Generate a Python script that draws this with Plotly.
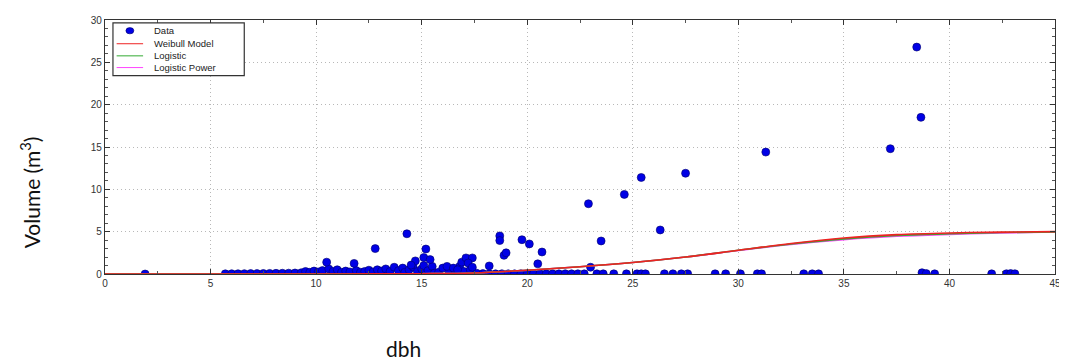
import plotly.graph_objects as go

# Observed data (dbh, volume)
dbh_data = [1.9,
    5.7, 6.0, 6.3, 6.6, 6.9, 7.2, 7.5, 7.8, 8.1, 8.4, 8.7, 9.0, 9.3, 9.5, 9.7, 9.9,
    10.1, 10.3, 10.6, 10.8, 11.0, 11.2, 11.4, 11.6, 11.9, 12.1, 12.3, 12.5, 12.7, 12.9,
    13.1, 13.3, 13.5, 13.7, 13.9, 14.1, 14.2, 14.4, 14.6, 14.8, 15.0, 15.1, 15.3, 15.5,
    15.6, 15.8, 16.0, 16.3, 16.6, 16.8, 17.0, 17.3, 17.6, 17.9, 18.2, 18.5, 18.8, 19.1,
    19.4, 19.7, 20.0, 20.3, 20.6, 20.9, 21.2, 21.5, 21.8, 22.1, 22.4, 22.7, 23.3, 23.6,
    24.1, 24.7, 25.2, 25.4, 25.6, 26.5, 26.9, 27.3, 27.6, 28.9, 29.4, 30.1, 30.9, 31.1,
    33.1, 33.5, 33.8, 38.7, 38.9, 39.3, 42.0, 42.7, 42.9, 43.1,
    10.5, 11.8, 12.8, 14.3, 15.2, 15.1, 15.4, 14.7, 14.5, 16.2, 16.5, 16.9, 17.1, 17.4,
    17.2, 17.4, 16.7, 18.2, 18.7, 18.7, 18.9, 19.0, 19.75, 20.1, 20.7, 20.5,
    22.9, 23.0, 23.5, 24.6, 25.4, 26.3, 27.5, 31.3, 37.2, 38.45, 38.65]
vol_data = [0.0,
    0.02, 0.03, 0.03, 0.04, 0.05, 0.05, 0.06, 0.07, 0.08, 0.09, 0.10, 0.12, 0.15, 0.30, 0.20, 0.35,
    0.25, 0.40, 0.60, 0.30, 0.50, 0.20, 0.35, 0.25, 0.40, 0.20, 0.30, 0.45, 0.25, 0.50,
    0.35, 0.60, 0.30, 0.80, 0.40, 0.70, 0.20, 0.50, 0.80, 0.30, 0.60, 1.00, 0.40, 0.90,
    0.10, 0.20, 0.70, 0.30, 0.20, 0.90, 0.30, 0.50, 0.10, 0.05, 0.03, 0.02, 0.03, 0.02,
    0.02, 0.03, 0.02, 0.02, 0.03, 0.02, 0.02, 0.02, 0.03, 0.02, 0.02, 0.02, 0.02, 0.02,
    0.02, 0.02, 0.02, 0.02, 0.02, 0.02, 0.02, 0.02, 0.02, 0.02, 0.02, 0.02, 0.02, 0.02,
    0.02, 0.02, 0.02, 0.15, 0.05, 0.02, 0.02, 0.03, 0.05, 0.03,
    1.4, 1.25, 3.0, 4.75, 2.95, 1.95, 1.7, 1.55, 1.05, 0.9, 0.7, 1.4, 1.9, 1.9,
    1.3, 0.8, 0.5, 0.95, 4.5, 3.95, 2.2, 2.5, 4.05, 3.55, 2.6, 1.2,
    8.3, 0.8, 3.9, 9.4, 11.4, 5.2, 11.9, 14.4, 14.8, 26.8, 18.5]

# Model curves
dbh_curve = [0, 2.5, 5, 7.5, 10, 12.5, 15, 17.5, 20, 22.5, 25, 27.5, 30, 32.5, 35, 37.5, 40, 42.5, 45]
weibull = [0, 0, 0, 0, 0, 0.01, 0.03, 0.12, 0.45, 0.85, 1.35, 2.0, 2.8, 3.6, 4.25, 4.65, 4.85, 4.95, 5.0]
logistic = [0, 0, 0, 0, 0, 0.01, 0.03, 0.12, 0.45, 0.85, 1.35, 2.0, 2.8, 3.55, 4.15, 4.55, 4.75, 4.9, 4.98]
logistic_power = [0, 0, 0, 0, 0, 0.01, 0.03, 0.12, 0.45, 0.85, 1.35, 2.0, 2.78, 3.5, 4.05, 4.45, 4.68, 4.85, 4.97]

legend_names = ["Data", "Weibull Model", "Logistic", "Logistic Power"]
colors = {"Data": "#0000E6", "Weibull Model": "#EE2222", "Logistic": "#33AA33", "Logistic Power": "#FF44FF"}

fig = go.Figure()
fig.add_trace(go.Scatter(x=dbh_data, y=vol_data, mode="markers", name="Data",
                         marker=dict(color=colors["Data"], size=8, line=dict(color="#00006A", width=0.6))))
fig.add_trace(go.Scatter(x=dbh_curve, y=logistic_power, mode="lines", name="Logistic Power",
                         line=dict(color=colors["Logistic Power"], width=1.6, shape="spline")))
fig.add_trace(go.Scatter(x=dbh_curve, y=logistic, mode="lines", name="Logistic",
                         line=dict(color=colors["Logistic"], width=1.6, shape="spline")))
fig.add_trace(go.Scatter(x=dbh_curve, y=weibull, mode="lines", name="Weibull Model",
                         line=dict(color=colors["Weibull Model"], width=1.6, shape="spline")))

axis_common = dict(showline=True, linecolor="#333333", linewidth=1.2, mirror="ticks",
                   ticks="inside", ticklen=5, tickcolor="#333333",
                   showgrid=True, gridcolor="#B8B8B8", griddash="1px,3px", gridwidth=1,
                   zeroline=False, tickfont=dict(family="Liberation Sans", size=10, color="#333333"),
                   minor=dict(ticks="inside", ticklen=3, tickcolor="#555555", showgrid=False))

fig.update_xaxes(range=[0, 45], dtick=5, minor_dtick=2.5, **axis_common)
fig.update_yaxes(range=[0, 30], dtick=5, minor_dtick=1, **axis_common)

# Compact legend drawn with shapes + text (paper coordinates)
W_PLOT, H_PLOT = 955.0, 260.0
def px_x(dx):
    return dx / W_PLOT
def px_y(dy):
    return dy / H_PLOT

shapes = [dict(type="rect", xref="paper", yref="paper",
               x0=px_x(8), x1=px_x(140), y0=1 - px_y(57), y1=1 - px_y(3),
               fillcolor="white", line=dict(color="#333333", width=1.2), layer="above")]
annotations = []
row_y = [11, 24.3, 36.7, 48.7]
for name, ry in zip(legend_names, row_y):
    yc = 1 - px_y(ry)
    if name == "Data":
        shapes.append(dict(type="circle", xref="paper", yref="paper",
                           x0=px_x(21), x1=px_x(29), y0=yc - px_y(3.2), y1=yc + px_y(3.2),
                           fillcolor=colors[name], line=dict(color="#00006A", width=0.6), layer="above"))
    else:
        shapes.append(dict(type="line", xref="paper", yref="paper",
                           x0=px_x(11.7), x1=px_x(38.3), y0=yc, y1=yc,
                           line=dict(color=colors[name], width=1), layer="above"))
    annotations.append(dict(text=name, xref="paper", yref="paper", x=px_x(47), y=yc,
                            xanchor="left", yanchor="middle", showarrow=False,
                            font=dict(family="Liberation Sans", size=9.5, color="#222222")))

annotations += [
    dict(text="dbh", xref="paper", yref="paper", x=(397 - 97) / W_PLOT, y=(266 - 342) / H_PLOT,
         xanchor="center", yanchor="middle", showarrow=False,
         font=dict(family="Lato", size=21, color="#111111")),
    dict(text="Volume (m<sup>3</sup>)", xref="paper", yref="paper", x=(22 - 97) / W_PLOT,
         y=(266 - 182) / H_PLOT, xanchor="center", yanchor="middle", textangle=-90, showarrow=False,
         font=dict(family="Lato", size=21, color="#111111")),
]

fig.update_layout(
    width=1059, height=355,
    margin=dict(l=97, r=7, t=6, b=89),
    plot_bgcolor="white", paper_bgcolor="white",
    showlegend=False,
    shapes=shapes,
    annotations=annotations,
)

fig.write_html("out.html")
